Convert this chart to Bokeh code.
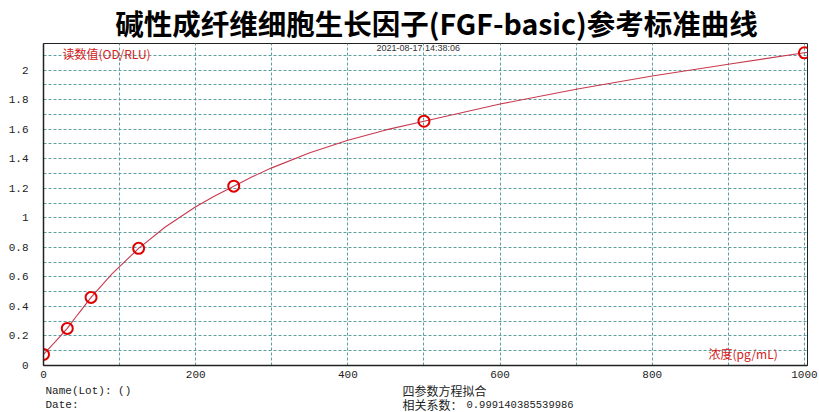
from bokeh.plotting import figure
from bokeh.models import FixedTicker, Label, Range1d
from bokeh.layouts import column
from bokeh.core.properties import value
from bokeh.embed import file_html
from bokeh.resources import INLINE

# ---- data ----
conc = [0, 31.25, 62.5, 125, 250, 500, 1000]
od = [0.075, 0.251, 0.461, 0.793, 1.214, 1.654, 2.117]

# fitted four-parameter curve
curve_x = [0, 15, 31.25, 45, 62.5, 90, 125, 160, 200, 225, 250, 275, 300, 350,
           400, 450, 500, 600, 700, 800, 900, 1000, 1004]
curve_y = [0.075, 0.158, 0.251, 0.345, 0.461, 0.62, 0.793, 0.938, 1.075, 1.147,
           1.214, 1.279, 1.338, 1.44, 1.525, 1.595, 1.654, 1.77, 1.87, 1.96,
           2.04, 2.117, 2.12]

x_ticks = [0, 200, 400, 600, 800, 1000]
x_tick_labels = ["0", "200", "400", "600", "800", "1000"]
y_ticks = [0, 0.2, 0.4, 0.6, 0.8, 1.0, 1.2, 1.4, 1.6, 1.8, 2.0]
y_tick_labels = ["0", "0.2", "0.4", "0.6", "0.8", "1", "1.2", "1.4", "1.6", "1.8", "2"]
x_grid = [100, 200, 300, 400, 500, 600, 700, 800, 900, 1000]
y_grid = [0.1, 0.2, 0.3, 0.4, 0.5, 0.6, 0.7, 0.8, 0.9, 1.0, 1.1, 1.2, 1.3, 1.4,
          1.5, 1.6, 1.7, 1.8, 1.9, 2.0, 2.1]

title_text = "碱性成纤维细胞生长因子(FGF-basic)参考标准曲线"
y_name = "读数值(OD/RLU)"
x_name = "浓度(pg/mL)"
stamp = "2021-08-17 14:38:06"
info_left = ["Name(Lot):  ()", "Date:"]
info_right = ["四参数方程拟合", "相关系数："]
corr_value = "0.999140385539986"

W = 819
TOP_H = 43
MAIN_H = 340
BOT_H = 412 - TOP_H - MAIN_H
FL, FR = 43, 807   # frame left / right on the canvas


def blank(h):
    # frame aligned with the main chart; x data == canvas pixels
    f = figure(width=W, height=h, output_backend="svg", toolbar_location=None,
               x_range=Range1d(FL, FR), y_range=Range1d(h, 0),
               x_axis_type=None, y_axis_type=None,
               min_border_left=FL, min_border_right=W - FR,
               min_border_top=0, min_border_bottom=0)
    f.outline_line_color = None
    f.xgrid.visible = False
    f.ygrid.visible = False
    f.background_fill_color = "white"
    f.border_fill_color = "white"
    return f


# ---- title strip ----
top = blank(TOP_H)
top.text(x=[436], y=[22], text=[title_text], text_font=value("Noto Sans CJK SC"),
         text_font_size="28.5px", text_font_style="bold", text_color="#000000",
         text_align="center", text_baseline="middle")

# ---- main chart ----
p = figure(width=W, height=MAIN_H, output_backend="svg", toolbar_location=None,
           x_range=Range1d(0, 1004), y_range=Range1d(0, 2.18),
           min_border_left=FL, min_border_right=W - FR, min_border_top=0,
           min_border_bottom=MAIN_H - 322)
p.background_fill_color = "white"
p.border_fill_color = "white"
p.outline_line_color = "#222222"
p.outline_line_width = 1

for ax in (p.xaxis[0], p.yaxis[0]):
    ax.axis_line_color = "#222222"
    ax.axis_line_width = 1.5
    ax.major_tick_line_color = None
    ax.minor_tick_line_color = None
    ax.major_tick_out = 0
    ax.major_tick_in = 0
    ax.minor_tick_out = 0
    ax.major_label_text_font = "Liberation Mono"
    ax.major_label_text_font_size = "11px"
    ax.major_label_text_color = "#222222"

p.xaxis.ticker = FixedTicker(ticks=x_ticks)
p.xaxis.major_label_overrides = {t: l for t, l in zip(x_ticks, x_tick_labels)}
p.xaxis.major_label_standoff = 5
p.yaxis.ticker = FixedTicker(ticks=y_ticks)
p.yaxis.major_label_overrides = {t: l for t, l in zip(y_ticks, y_tick_labels)}
p.yaxis.major_label_standoff = 15

p.xgrid.ticker = FixedTicker(ticks=x_grid)
p.ygrid.ticker = FixedTicker(ticks=y_grid)
for g in (p.xgrid[0], p.ygrid[0]):
    g.grid_line_color = "#5f9ea0"
    g.grid_line_dash = "3 2"
    g.grid_line_width = 1

p.line(curve_x, curve_y, line_color="#c83a4e", line_width=1.1)
p.scatter(conc, od, marker="circle", size=11, fill_color=None,
          line_color="#e00000", line_width=2)


def lab(x, y, text, font, size, color="#222222", align="left"):
    p.add_layout(Label(x=x, y=y, x_units="screen", y_units="screen", text=text,
                       text_font=font, text_font_size=size, text_color=color,
                       text_align=align, text_baseline="middle"))


# positions relative to the frame's bottom-left corner (frame is 322 px tall)
lab(19, 312, y_name, "Noto Sans CJK SC", "12px", "#d42020")
lab(665, 12, x_name, "Noto Sans CJK SC", "12px", "#d42020")
lab(333, 318, stamp, "Liberation Sans", "9px", "#333333")

# ---- info strip ----
bot = blank(BOT_H)
bot.text(x=[45, 45], y=[7, 21], text=info_left, text_font=value("Liberation Mono"),
         text_font_size="11px", text_color="#222222", text_baseline="middle")
bot.text(x=[402, 402], y=[7, 21], text=info_right, text_font=value("Noto Sans CJK SC"),
         text_font_size="12px", text_color="#222222", text_baseline="middle")
bot.text(x=[466], y=[21], text=[corr_value], text_font=value("Liberation Mono"),
         text_font_size="10.5px", text_color="#222222", text_baseline="middle")

layout = column(top, p, bot, spacing=0)
open("out.html", "w").write(file_html(layout, INLINE))
